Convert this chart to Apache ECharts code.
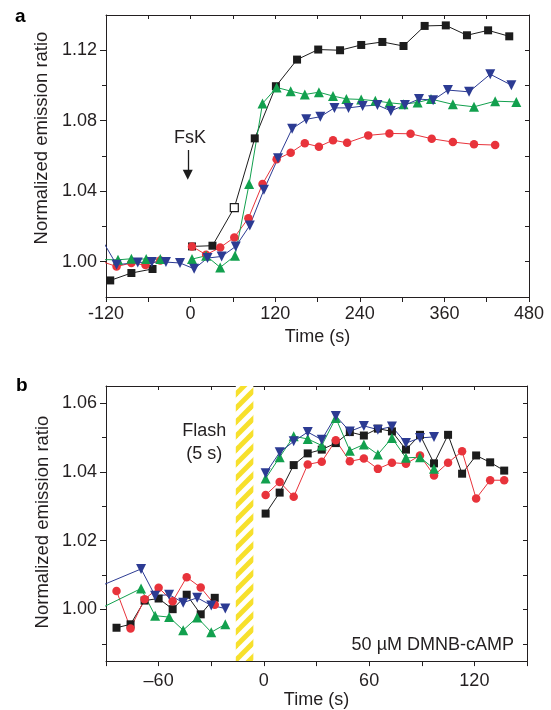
<!DOCTYPE html>
<html>
<head>
<meta charset="utf-8">
<script src="https://cdn.jsdelivr.net/npm/echarts@6.0.0/dist/echarts.min.js"></script>
<style>
  html, body { margin: 0; padding: 0; background: #fff; }
  #main { width: 551px; height: 710px; }
</style>
</head>
<body>
<div id="main"></div>
<script>
// ---- panel a : FsK stimulation ----
var aBlackT = [-114, -84, -54, -24, 2, 31, 62, 91, 121, 151, 181, 212, 242, 272, 302, 332, 362, 392, 422, 452];
var aBlackV = [0.9894, 0.9936, 0.9959, null, 1.0087, 1.0091, 1.0307, 1.0700, 1.0996, 1.1147, 1.1204, 1.1200, 1.1230, 1.1247, 1.1224, 1.1338, 1.1341, 1.1285, 1.1313, 1.1279];
var aBlackOpen = [62]; // hollow square

var aRedT = [-125, -105, -84, -64, -43, -20, 2, 22, 42, 62, 82, 102, 122, 142, 162, 182, 202, 222, 252, 282, 312, 342, 372, 402, 432];
var aRedV = [1.0000, 0.9973, 0.9993, 0.9981, 1.0007, null, 1.0087, 1.0040, 1.0081, 1.0138, 1.0247, 1.0441, 1.0581, 1.0619, 1.0672, 1.0653, 1.0690, 1.0675, 1.0717, 1.0728, 1.0726, 1.0698, 1.0679, 1.0666, 1.0662];

var aGreenT = [-125, -103, -84, -63, -43, -20, 2, 22, 42, 63, 83, 102, 122, 142, 162, 182, 202, 221, 242, 262, 282, 302, 322, 341, 372, 402, 432, 462];
var aGreenV = [1.0012, 1.0011, 1.0017, 1.0015, 1.0015, null, 1.0015, 1.0034, 0.9968, 1.0034, 1.0441, 1.0898, 1.0989, 1.0968, 1.0949, 1.0962, 1.0940, 1.0924, 1.0921, 1.0913, 1.0902, 1.0894, 1.0904, 1.0923, 1.0893, 1.0879, 1.0911, 1.0907];

var aBlueT = [-125, -105, -75, -55, -35, -15, 5, 24, 44, 64, 84, 104, 124, 144, 164, 184, 204, 224, 244, 265, 284, 304, 324, 344, 365, 395, 425, 455];
var aBlueV = [1.0120, 0.9983, 0.9996, 0.9998, 0.9998, 0.9993, 0.9960, 1.0021, 1.0030, 1.0087, 1.0206, 1.0408, 1.0587, 1.0755, 1.0808, 1.0823, 1.0873, 1.0873, 1.0883, 1.0889, 1.0856, 1.0889, 1.0923, 1.0917, 1.0974, 1.0964, 1.1064, 1.1002];

var aXTicks = { min: -120, max: 480, step: 60, labelStep: 120 };
var aYLabels = [1.00, 1.04, 1.08, 1.12];
var aYMinor = [1.02, 1.06, 1.10];
var aYRight = [1.00, 1.02, 1.04, 1.06, 1.08, 1.10, 1.12];
var fskT = -4, fskArrow = [1.0634, 1.0470], fskTextV = 1.0702;

// ---- panel b : DMNB-cAMP flash ----
var bT = [-84, -76, -68, -60, -52, -44, -36, -28, -10, 1, 9, 17, 25, 33, 41, 49, 57, 65, 73, 81, 89, 97, 105, 113, 121, 129, 137];
var bBlackV = [0.9947, 0.9957, 1.0026, 1.0032, 1.0001, 1.0043, 0.9986, 1.0034, null, 1.0279, 1.0340, 1.0420, 1.0454, 1.0465, 1.0484, 1.0516, 1.0506, 1.0526, 1.0518, 1.0465, 1.0508, 1.0425, 1.0508, 1.0395, 1.0448, 1.0428, 1.0404];
var bRedV = [1.0054, 0.9945, 1.0030, 1.0063, 1.0024, 1.0094, 1.0064, 1.0014, null, 1.0333, 1.0371, 1.0328, 1.0422, 1.0430, 1.0492, 1.0431, 1.0439, 1.0409, 1.0427, 1.0424, 1.0448, 1.0390, 1.0427, 1.0460, 1.0323, 1.0376, 1.0376];

var bT2 = [-98, -70, -62, -54, -46, -38, -30, -22, -10, 1, 9, 17, 25, 33, 41, 49, 57, 65, 73, 81, 89, 97];
var bGreenV = [0.9991, 1.0061, 0.9982, 0.9978, 0.9940, 0.9977, 0.9934, 0.9957, null, 1.0381, 1.0443, 1.0504, 1.0496, 1.0477, 1.0557, 1.0462, 1.0480, 1.0451, 1.0499, 1.0441, 1.0443, 1.0409];
var bBlueV = [1.0058, 1.0118, 1.0040, 1.0043, 1.0020, 1.0034, 1.0012, 1.0003, null, 1.0396, 1.0457, 1.0489, 1.0516, 1.0494, 1.0563, 1.0518, 1.0534, 1.0523, 1.0532, 1.0484, 1.0499, 1.0502];

var bXTicks = { min: -90, max: 150, step: 30, labelStep: 60 };
var bYLabels = [1.00, 1.02, 1.04, 1.06];
var bYMinor = [0.99, 1.01, 1.03, 1.05];
var bYRight = [0.99, 1.00, 1.01, 1.02, 1.03, 1.04, 1.05, 1.06];
var flashStart = -16, flashEnd = -6;
var flashTextT = -34, flashTextV = 1.0485;

var C = { black: '#1c1c1c', red: '#e8333b', green: '#12a04e', blue: '#2c3b93', axis: '#231f20' };
var FONT = 'Liberation Sans, Arial, Helvetica, sans-serif';
var yTitle = 'Normalized emission ratio';

var chart = echarts.init(document.getElementById('main'), null, { renderer: 'canvas' });

// yellow / white hatch for the flash window
var hatch = document.createElement('canvas');
hatch.width = 14; hatch.height = 14;
(function () {
    var s = 14;
    var ctx = hatch.getContext('2d');
    ctx.fillStyle = '#ffffff';
    ctx.fillRect(0, 0, s, s);
    ctx.strokeStyle = '#f7e02c';
    ctx.lineWidth = 5;
    [[-s / 2, s / 2, s / 2, -s / 2], [0, s, s, 0], [s / 2, s * 1.5, s * 1.5, s / 2]].forEach(function (l) {
        ctx.beginPath();
        ctx.moveTo(l[0], l[1]);
        ctx.lineTo(l[2], l[3]);
        ctx.stroke();
    });
})();

var pairs = function (ts, vs, openList) {
    return ts.map(function (t, i) {
        var v = vs[i] === null ? '-' : vs[i];
        if (openList && openList.indexOf(t) >= 0) {
            return { value: [t, v], itemStyle: { color: '#ffffff', borderColor: C.black, borderWidth: 1.2 } };
        }
        return [t, v];
    });
};

var lineSeries = function (name, data, symbol, color, panel, size, rotate) {
    return {
        name: name,
        type: 'line',
        xAxisIndex: panel === 0 ? 0 : 2,
        yAxisIndex: panel === 0 ? 0 : 3,
        data: data,
        symbol: symbol,
        symbolSize: size,
        symbolRotate: rotate || 0,
        showSymbol: true,
        connectNulls: false,
        clip: true,
        lineStyle: { color: color, width: 1 },
        itemStyle: { color: color },
        animation: false,
        silent: true
    };
};

var xAxisPair = function (grid, t, labelFn, nameGap, labelMargin) {
    var base = { type: 'value', gridIndex: grid, min: t.min, max: t.max, interval: t.step,
                 splitLine: { show: false },
                 axisLine: { show: true, onZero: false, lineStyle: { color: C.axis, width: 1 } } };
    var bottom = Object.assign({}, base, {
        position: 'bottom',
        name: 'Time (s)', nameLocation: 'middle', nameGap: nameGap,
        nameTextStyle: { fontSize: 18, color: C.axis, fontFamily: FONT },
        axisTick: { show: true, length: 5, lineStyle: { color: C.axis } },
        axisLabel: { show: true, margin: labelMargin, fontSize: 18, color: C.axis, fontFamily: FONT,
                     showMinLabel: true, showMaxLabel: true, formatter: labelFn }
    });
    var top = Object.assign({}, base, {
        position: 'top',
        axisTick: { show: true, inside: true, length: 4, lineStyle: { color: C.axis } },
        axisLabel: { show: false }
    });
    return [bottom, top];
};

var yAxisSet = function (grid, min, max, labels, minor, right) {
    var base = { type: 'value', gridIndex: grid, min: min, max: max, splitLine: { show: false } };
    var major = Object.assign({}, base, {
        position: 'left',
        axisLine: { show: true, onZero: false, lineStyle: { color: C.axis, width: 1 } },
        axisTick: { show: true, length: 6, customValues: labels, lineStyle: { color: C.axis } },
        axisLabel: { show: true, margin: 9, fontSize: 18, color: C.axis, fontFamily: FONT,
                     customValues: labels, formatter: function (v) { return v.toFixed(2); } }
    });
    var minorAxis = Object.assign({}, base, {
        position: 'left',
        axisLine: { show: false, onZero: false },
        axisTick: { show: true, length: 4, customValues: minor, lineStyle: { color: C.axis } },
        axisLabel: { show: false, customValues: minor }
    });
    var rightAxis = Object.assign({}, base, {
        position: 'right',
        axisLine: { show: true, onZero: false, lineStyle: { color: C.axis, width: 1 } },
        axisTick: { show: true, inside: true, length: 4, customValues: right, lineStyle: { color: C.axis } },
        axisLabel: { show: false, customValues: right }
    });
    return [major, minorAxis, rightAxis];
};

var aX = xAxisPair(0, aXTicks, function (v) { return v % aXTicks.labelStep === 0 ? String(v) : ''; }, 31, 8);
var bX = xAxisPair(1, bXTicks, function (v) {
    if (v % bXTicks.labelStep !== 0) return '';
    return v < 0 ? '\u2013' + (-v) : String(v);
}, 26, 11);

var aY = yAxisSet(0, 0.98, 1.14, aYLabels, aYMinor, aYRight);
var bY = yAxisSet(1, 0.985, 1.065, bYLabels, bYMinor, bYRight);

// panel a series
var aBlack = lineSeries('a-black', pairs(aBlackT, aBlackV, aBlackOpen), 'rect', C.black, 0, 8);
var aRed = lineSeries('a-red', pairs(aRedT, aRedV), 'circle', C.red, 0, 8.5);
var aGreen = lineSeries('a-green', pairs(aGreenT, aGreenV), 'triangle', C.green, 0, 10);
var aBlue = lineSeries('a-blue', pairs(aBlueT, aBlueV), 'triangle', C.blue, 0, 10, 180);

aBlack.markLine = {
    silent: true,
    symbol: ['none', 'none'],
    lineStyle: { color: C.black, width: 1.3, type: 'solid' },
    label: { show: false },
    data: [[{ coord: [fskT, fskArrow[0]] }, { coord: [fskT, fskArrow[1] + 0.003] }]]
};
aBlack.markPoint = {
    silent: true,
    data: [
        { coord: [fskT + 3, fskTextV], symbol: 'circle', symbolSize: 0,
          label: { show: true, position: 'inside', formatter: 'FsK', fontSize: 18, color: C.axis, fontFamily: FONT } },
        { coord: [fskT, fskArrow[1] + 0.0024], symbol: 'triangle', symbolSize: [10, 10], symbolRotate: 180,
          itemStyle: { color: C.black }, label: { show: false } }
    ]
};

// panel b series
var bBlack = lineSeries('b-black', pairs(bT, bBlackV), 'rect', C.black, 1, 8);
var bRed = lineSeries('b-red', pairs(bT, bRedV), 'circle', C.red, 1, 8.5);
var bGreen = lineSeries('b-green', pairs(bT2, bGreenV), 'triangle', C.green, 1, 10);
var bBlue = lineSeries('b-blue', pairs(bT2, bBlueV), 'triangle', C.blue, 1, 10, 180);

bBlack.markArea = {
    silent: true,
    itemStyle: { color: { image: hatch, repeat: 'repeat' } },
    label: { show: false },
    data: [[{ xAxis: flashStart }, { xAxis: flashEnd }]]
};
bBlack.markPoint = {
    silent: true,
    symbol: 'circle', symbolSize: 0,
    label: { show: true, position: 'inside', formatter: 'Flash\n(5 s)', lineHeight: 23,
             fontSize: 18, color: C.axis, fontFamily: FONT },
    data: [{ coord: [flashTextT, flashTextV] }]
};

var option = {
    animation: false,
    backgroundColor: '#ffffff',
    textStyle: { fontFamily: FONT },
    grid: [
        { left: 106, top: 15, width: 423, height: 282, containLabel: false },
        { left: 106, top: 386, width: 421, height: 277, containLabel: false }
    ],
    xAxis: [aX[0], aX[1], bX[0], bX[1]],
    yAxis: [aY[0], aY[1], aY[2], bY[0], bY[1], bY[2]],
    series: [aBlack, aRed, aGreen, aBlue, bBlack, bRed, bGreen, bBlue],
    graphic: [
        { type: 'text', left: 15, top: 7, style: { text: 'a', fontSize: 19, fontWeight: 'bold', fill: '#000', fontFamily: FONT } },
        { type: 'text', left: 16, top: 376, style: { text: 'b', fontSize: 19, fontWeight: 'bold', fill: '#000', fontFamily: FONT } },
        { type: 'text', x: 42, y: 138, rotation: Math.PI / 2,
          style: { text: yTitle, fontSize: 18.5, fill: C.axis, fontFamily: FONT, align: 'center', verticalAlign: 'middle' } },
        { type: 'text', x: 43, y: 522, rotation: Math.PI / 2,
          style: { text: yTitle, fontSize: 18.5, fill: C.axis, fontFamily: FONT, align: 'center', verticalAlign: 'middle' } },
        { type: 'text', right: 37, top: 636, style: { text: '50 \u00b5M DMNB-cAMP', fontSize: 18, fill: C.axis, fontFamily: FONT } }
    ]
};

chart.setOption(option);
</script>
</body>
</html>
